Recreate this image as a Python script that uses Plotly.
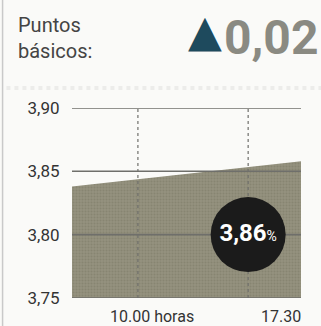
import plotly.graph_objects as go

# datos
sesion_x = [0.0, 1.0]
rendimiento = [3.838, 3.858]
y_ticks = [3.75, 3.80, 3.85, 3.90]
y_labels = ['3,75', '3,80', '3,85', '3,90']
x_ticks = [0.288, 0.769]
x_labels = ['10.00 horas', '17.30']
cierre_texto = '3,86'
variacion_texto = '0,02'

FUENTE = 'Roboto, sans-serif'
GRIS_LINEA = '#6f6f6b'

fig = go.Figure()
fig.add_trace(go.Scatter(x=sesion_x, y=rendimiento, mode='lines',
                         line={'width': 0, 'color': '#8e8b79'},
                         fill='tozeroy', fillcolor='#8e8b79',
                         fillpattern={'shape': '.', 'size': 3, 'solidity': 0.35,
                                      'fgcolor': '#76735f', 'bgcolor': '#95927f'},
                         hoverinfo='skip'))

# rejilla encima del area y debajo del circulo
gx, gy = [], []
for v in y_ticks:
    gx += [sesion_x[0], sesion_x[-1], None]
    gy += [v, v, None]
fig.add_trace(go.Scatter(x=gx, y=gy, mode='lines', line={'color': GRIS_LINEA, 'width': 1.6},
                         hoverinfo='skip', cliponaxis=False))
vx, vy = [], []
for v in x_ticks:
    vx += [v, v, None]
    vy += [y_ticks[0], y_ticks[-1], None]
fig.add_trace(go.Scatter(x=vx, y=vy, mode='lines',
                         line={'color': GRIS_LINEA, 'width': 1.2, 'dash': 'dot'},
                         hoverinfo='skip'))

# circulo del cierre en la ultima marca, sobre 3,80
fig.add_trace(go.Scatter(x=[x_ticks[1]], y=[y_ticks[1]], mode='markers+text',
                         marker={'size': 75, 'color': '#1b1b1b', 'line': {'width': 0}},
                         text=['<b>' + cierre_texto + '</b><span style="font-size:14px">%</span>'],
                         textposition='middle center',
                         textfont={'family': FUENTE, 'size': 24, 'color': 'white'},
                         hoverinfo='skip', cliponaxis=False))

fig.add_annotation(xref='x', yref='paper', x=x_ticks[0], y=0.028, yanchor='middle',
                   text=x_labels[0], showarrow=False, xshift=14,
                   font={'family': FUENTE, 'size': 16, 'color': '#333'})
fig.add_annotation(xref='x domain', yref='paper', x=1, y=0.028, yanchor='middle',
                   text=x_labels[1], showarrow=False, xanchor='right', xshift=2,
                   font={'family': FUENTE, 'size': 16, 'color': '#333'})

# cabecera
fig.add_annotation(xref='paper', yref='paper', x=0.05, y=0.965, xanchor='left', yanchor='top',
                   text='Puntos<br>básicos:', align='left', showarrow=False,
                   font={'family': FUENTE, 'size': 20, 'color': '#444'})
fig.add_annotation(xref='paper', yref='paper', x=0.697, y=0.905, xanchor='right', yanchor='middle',
                   text='▲', showarrow=False,
                   font={'family': 'DejaVu Sans', 'size': 44, 'color': '#1e4a5d'})
fig.add_annotation(xref='paper', yref='paper', x=0.997, y=0.885, xanchor='right', yanchor='middle',
                   text='<b>' + variacion_texto + '</b>', showarrow=False,
                   font={'family': FUENTE, 'size': 48, 'color': '#8a8a82'})

# separador y borde
fig.add_shape(type='line', xref='paper', yref='paper', x0=0.02, x1=1, y0=0.73, y1=0.73,
              line={'color': '#ececea', 'width': 4, 'dash': 'dot'})
fig.add_shape(type='line', xref='paper', yref='paper', x0=0.008, x1=0.008, y0=0, y1=1,
              line={'color': '#c9c9c9', 'width': 1.5})

fig.update_layout(width=321, height=326, margin={'l': 0, 'r': 0, 't': 0, 'b': 0},
                  paper_bgcolor='#fafaf8', plot_bgcolor='#fafaf8', showlegend=False,
                  xaxis={'domain': [0.224, 0.938], 'range': [0, 1], 'showgrid': False,
                         'zeroline': False, 'showticklabels': False, 'fixedrange': True,
                         'automargin': False},
                  yaxis={'domain': [0.086, 0.669], 'range': [3.75, 3.90],
                         'tickvals': y_ticks, 'ticktext': y_labels, 'showgrid': False,
                         'zeroline': False, 'ticks': 'outside', 'ticklen': 8,
                         'tickcolor': 'rgba(0,0,0,0)',
                         'automargin': False, 'fixedrange': True,
                         'tickfont': {'family': FUENTE, 'size': 17, 'color': '#333'}})

fig.write_html('out.html', config={'displayModeBar': False},
               post_script="document.body.style.margin = '0';")
